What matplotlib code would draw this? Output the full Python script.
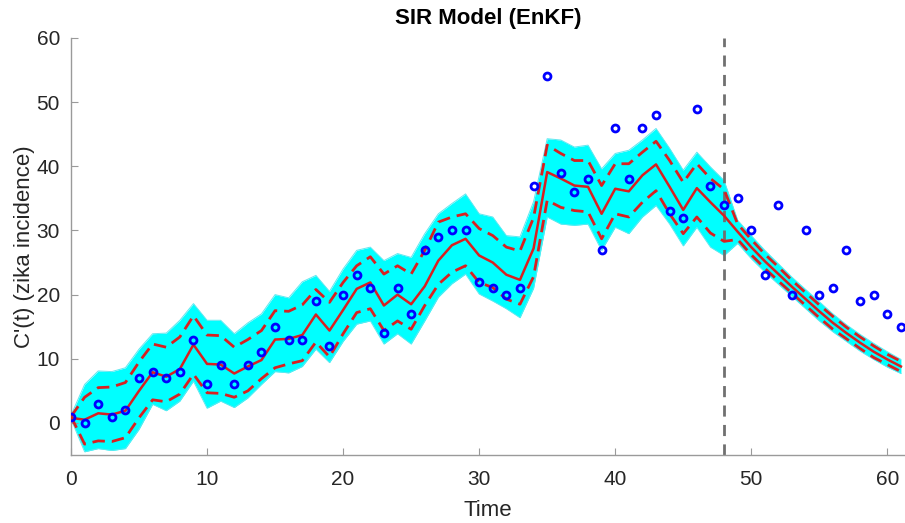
import numpy as np
import matplotlib
matplotlib.use('Agg')
import matplotlib.pyplot as plt

plt.rcParams['font.family'] = ['Liberation Sans', 'DejaVu Sans']

#! Data
t = list(range(62))
obs = [1, 0, 3, 1, 2, 7, 8, 7, 8, 13, 6, 9, 6, 9, 11, 15, 13, 13, 19, 12,
       20, 23, 21, 14, 21, 17, 27, 29, 30, 30, 22, 21, 20, 21, 37, 54, 39, 36, 38, 27,
       46, 38, 46, 48, 33, 32, 49, 37, 34, 35, 30, 23, 34, 20, 30, 20, 21, 27, 19, 20,
       17, 15]
mean = [0.8, 0.5, 1.5, 1.3, 1.9, 5.0, 7.9, 7.2, 8.4, 12.2, 9.2, 9.1, 7.7, 8.8, 9.8, 13.0, 13.1, 13.7, 16.9, 14.4,
        17.6, 20.9, 21.9, 18.3, 20.0, 18.5, 21.3, 25.3, 27.7, 28.7, 26.1, 25.0, 23.1, 22.3, 27.2, 39.1, 38.1, 37.0, 36.8, 32.6,
        36.5, 36.1, 38.6, 40.3, 36.8, 33.2, 36.6, 34.4, 32.3, 29.8, 27.4, 25.2, 23.2, 21.2, 19.3, 17.4, 15.6, 14.0, 12.5, 11.1,
        9.9, 8.8]
upper = [1.0, 4.0, 5.5, 5.6, 6.3, 9.5, 12.3, 11.8, 13.4, 16.7, 13.7, 13.6, 11.8, 13.0, 14.4, 17.5, 17.4, 18.4, 20.8, 18.8,
         21.9, 24.5, 25.9, 23.2, 24.5, 23.2, 26.9, 31.3, 32.1, 32.6, 30.3, 29.2, 27.4, 26.8, 32.0, 43.3, 42.0, 40.9, 40.9, 37.0,
         40.4, 40.4, 42.2, 43.9, 40.9, 37.5, 40.4, 38.1, 36.4, 31.0, 28.6, 26.3, 24.3, 22.2, 20.3, 18.4, 16.6, 14.9, 13.4, 12.0,
         10.7, 9.6]
lower = [1.0, -3.3, -2.8, -2.9, -2.3, 0.8, 3.6, 3.3, 4.5, 7.6, 4.7, 4.6, 4.0, 5.0, 6.9, 8.6, 9.2, 9.7, 12.6, 10.3,
         13.9, 17.2, 17.8, 14.4, 15.9, 14.6, 18.3, 21.6, 23.5, 24.5, 21.9, 21.1, 19.3, 18.5, 22.8, 34.7, 33.6, 33.1, 32.9, 28.7,
         32.6, 32.1, 34.4, 36.2, 32.6, 29.5, 32.1, 29.6, 28.3, 28.6, 26.2, 24.1, 22.1, 20.2, 18.3, 16.4, 14.6, 13.1, 11.6, 10.2,
         9.1, 8.0]
# outer edge of the cyan ensemble cloud
ens_hi = [1.2, 6.0, 8.1, 8.0, 8.6, 11.5, 13.9, 14.0, 16.0, 18.6, 16.0, 16.0, 13.9, 15.6, 17.0, 20.0, 19.5, 22.0, 23.0, 20.5,
          24.0, 26.9, 27.4, 25.3, 26.4, 25.8, 29.5, 32.6, 34.2, 35.7, 32.6, 32.1, 29.2, 29.0, 34.5, 44.3, 44.1, 43.0, 43.3, 39.6,
          42.0, 42.5, 44.1, 45.9, 42.8, 39.4, 42.2, 39.9, 37.8, 31.6, 29.2, 26.9, 24.8, 22.7, 20.8, 18.9, 17.0, 15.3, 13.8, 12.4,
          11.1, 9.9]
ens_lo = [0.6, -4.5, -4.0, -4.3, -4.0, -1.0, 2.9, 1.9, 3.4, 6.5, 2.3, 3.4, 2.4, 3.9, 6.0, 8.0, 7.8, 8.8, 11.5, 9.4,
          12.7, 15.4, 15.9, 12.3, 13.9, 12.3, 15.9, 19.6, 21.7, 23.2, 20.1, 19.0, 17.8, 16.4, 21.0, 32.1, 31.0, 30.8, 31.0, 26.9,
          30.5, 29.5, 32.1, 33.9, 31.0, 27.6, 30.5, 27.4, 26.1, 28.0, 25.6, 23.5, 21.6, 19.7, 17.8, 15.9, 14.2, 12.7, 11.2, 9.9,
          8.7, 7.7]
t_forecast = 48

fig = plt.figure(figsize=(9.05, 5.23), dpi=100)
ax = fig.add_axes([71/905, 68/523, 834/905, 417/523])

# ensemble cloud
ax.fill_between(t, ens_lo, ens_hi, color='#00ffff', lw=0, zorder=1)
ax.plot(t, ens_hi, color='#5fe8f0', lw=0.7, zorder=1)
ax.plot(t, ens_lo, color='#5fe8f0', lw=0.7, zorder=1)

ax.plot(t, upper, '--', color='#d92020', lw=2, dashes=(4.5, 2.5), zorder=3)
ax.plot(t, lower, '--', color='#d92020', lw=2, dashes=(4.5, 2.5), zorder=3)
ax.plot(t, mean, '-', color='#d92020', lw=1.8, zorder=4)
ax.plot(t, obs, 'o', mfc='none', mec='#0000ff', mew=2, ms=5, zorder=5)
ax.axvline(t_forecast, color='#707070', lw=2, ls=(0, (4, 3)), zorder=2)

ax.set_xlim(0, 61.3)
ax.set_ylim(-5, 60)
ax.set_xticks(range(0, 61, 10))
ax.set_yticks(range(0, 61, 10))
for s in ['top', 'right']:
    ax.spines[s].set_visible(False)
for s in ['left', 'bottom']:
    ax.spines[s].set_color('#9a9a9a')
    ax.spines[s].set_linewidth(1)
ax.tick_params(direction='in', length=5, color='#9a9a9a', labelsize=15, labelcolor='#262626')
ax.tick_params(axis='x', pad=11)
ax.tick_params(axis='y', pad=8)
ax.set_xlabel('Time', fontsize=16, color='#262626', labelpad=8)
ax.set_ylabel("C'(t) (zika incidence)", fontsize=16, color='#262626', labelpad=1)
ax.set_title('SIR Model (EnKF)', fontsize=16, fontweight='bold', color='black', pad=10)

fig.savefig('out.png', dpi=100)
